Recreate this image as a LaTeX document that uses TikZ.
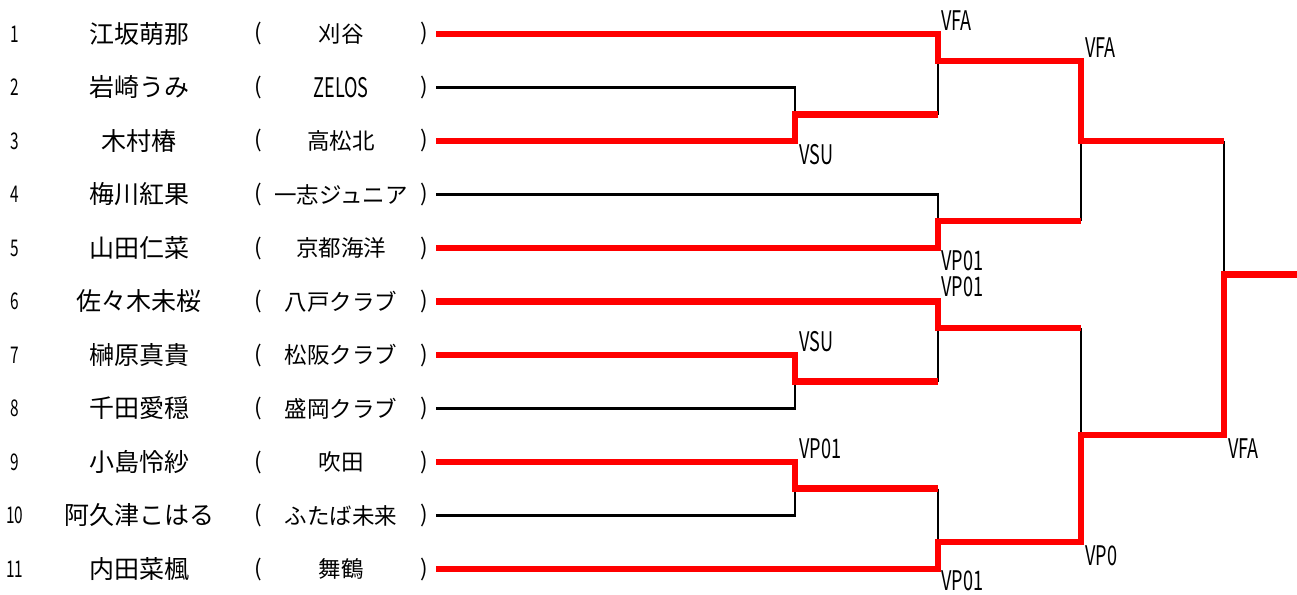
\documentclass[tikz,border=0pt]{standalone}
\usepackage{fontspec}
\setmainfont{Noto Sans CJK JP}
\newfontfamily\condfont[FakeStretch=0.67]{Noto Sans CJK JP}
\begin{document}
\begin{tikzpicture}[x=1pt,y=-1pt,
  txt/.style={inner sep=0pt,font=\fontsize{25}{30}\selectfont},
  club/.style={inner sep=0pt,font=\fontsize{22.5}{27}\selectfont},
  num/.style={inner sep=0pt,font=\condfont\fontsize{23}{27}\selectfont},
  lab/.style={inner sep=0pt,anchor=west,font=\condfont\fontsize{27}{31}\selectfont},
  win/.style={red,line width=6.3pt},
  lose/.style={black,line width=2.4pt}]
\useasboundingbox (0,0) rectangle (1297,594);
\foreach \i/\nm/\cl in {1/江坂萌那/刈谷, 2/岩崎うみ/{\condfont\fontsize{27}{31}\selectfont ZELOS}, 3/木村椿/高松北,
  4/梅川紅果/一志ジュニア, 5/山田仁菜/京都海洋, 6/佐々木未桜/八戸クラブ, 7/榊原真貴/松阪クラブ,
  8/千田愛穏/盛岡クラブ, 9/小島怜紗/吹田, 10/阿久津こはる/ふたば未来, 11/内田菜楓/舞鶴}{
  \pgfmathsetmacro\yy{34+53.5*(\i-1)}
  \node[num] (num\i) at (15,\yy) {\i};
  \node[txt] (name\i) at (139,\yy) {\nm};
  \node[club] (lp\i) at (258.5,\yy) {(};
  \node[club] (club\i) at (341,\yy) {\cl};
  \node[club] (rp\i) at (424.5,\yy) {)};
  \coordinate (r\i) at (436,\yy);
}
\coordinate (mA) at (795,114.5);
\coordinate (mB) at (938,61);
\coordinate (mC) at (938,221);
\coordinate (mD) at (1081,141);
\coordinate (mE) at (938,328);
\coordinate (mF) at (795,381.5);
\coordinate (mG) at (795,488.5);
\coordinate (mH) at (938,542);
\coordinate (mI) at (1081,435);
\coordinate (mJ) at (1224,274.5);
\coordinate (out) at (1297,274.5);
\draw[lose] (r2) -| (mA);
\draw[lose] (r4) -| (mC);
\draw[lose] (r8) -| (mF);
\draw[lose] (r10) -| (mG);
\draw[lose] (mA -| mB) -- (mB);
\draw[lose] (mC -| mD) -- (mD);
\draw[lose] (mD -| mJ) -- (mJ);
\draw[lose] (mF -| mE) -- (mE);
\draw[lose] (mG -| mH) -- (mH);
\draw[lose] (mE -| mI) -- (mI);
\draw[win] (r1) -| (mB) -| (mD) -- (mD -| mJ);
\draw[win] (r3) -| (mA) -- (mA -| mB);
\draw[win] (r5) -| (mC) -- (mC -| mD);
\draw[win] (r6) -| (mE) -- (mE -| mI);
\draw[win] (r7) -| (mF) -- (mF -| mE);
\draw[win] (r9) -| (mG) -- (mG -| mH);
\draw[win] (r11) -| (mH) -| (mI) -| (mJ) -- (out);
\node[lab] (lA) at (799,155) {VSU};
\node[lab] (lB) at (941,21) {VFA};
\node[lab] (lC) at (941,261) {VP01};
\node[lab] (lD) at (1085,48) {VFA};
\node[lab] (lE) at (941,287) {VP01};
\node[lab] (lF) at (799,342) {VSU};
\node[lab] (lG) at (799,449) {VP01};
\node[lab] (lH) at (941,581) {VP01};
\node[lab] (lI) at (1085,556) {VP0};
\node[lab] (lJ) at (1228,449) {VFA};
\end{tikzpicture}
\end{document}
